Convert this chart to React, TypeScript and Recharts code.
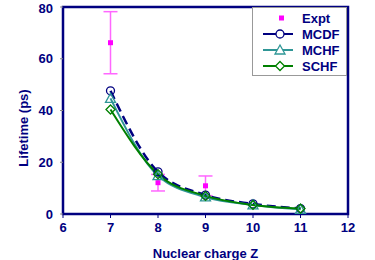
import {
  ComposedChart,
  Line,
  Scatter,
  ErrorBar,
  XAxis,
  YAxis,
  ReferenceArea,
} from 'recharts';

const zValues = [7, 8, 9, 10, 11];
const mcdf = [47.6, 16.3, 7.3, 3.9, 2.1];
const mchf = [44.7, 14.8, 6.6, 3.5, 1.8];
const schf = [40.4, 15.4, 7.0, 3.5, 2.1];

const exptZ = [7, 8, 9];
const expt = [66.2, 12.1, 10.9];
const exptErr = [12, 3.2, 3.8];

const xTicks = [6, 7, 8, 9, 10, 11, 12];
const yTicks = [0, 20, 40, 60, 80];
const yMinorTicks = [
  2, 4, 6, 8, 10, 12, 14, 16, 18, 22, 24, 26, 28, 30, 32, 34, 36, 38, 42, 44, 46, 48, 50,
  52, 54, 56, 58, 62, 64, 66, 68, 70, 72, 74, 76, 78,
];

const NAVY = '#000080';
const TEAL = '#2F9696';
const GREEN = '#008000';
const MAGENTA = '#FF00FF';
const FONT = '"Liberation Sans", Arial, sans-serif';

const data = zValues.map((z, i) => ({ z, mcdf: mcdf[i], mchf: mchf[i], schf: schf[i] }));
const exptData = exptZ.map((z, i) => ({ z, expt: expt[i], err: exptErr[i] }));

const Circle = (p: any) =>
  p.cx == null ? null : (
    <circle key={p.key} cx={p.cx} cy={p.cy} r={4} fill="none" stroke={NAVY} strokeWidth={1.3} />
  );

const Triangle = (p: any) =>
  p.cx == null ? null : (
    <path
      key={p.key}
      d={`M${p.cx},${p.cy - 5} L${p.cx + 5},${p.cy + 4} L${p.cx - 5},${p.cy + 4} Z`}
      fill="none"
      stroke={TEAL}
      strokeWidth={1.3}
    />
  );

const Diamond = (p: any) =>
  p.cx == null ? null : (
    <path
      key={p.key}
      d={`M${p.cx},${p.cy - 4.5} L${p.cx + 4.5},${p.cy} L${p.cx},${p.cy + 4.5} L${p.cx - 4.5},${p.cy} Z`}
      fill="none"
      stroke={GREEN}
      strokeWidth={1.3}
    />
  );

const Square = (p: any) => (
  <rect x={p.cx - 2.5} y={p.cy - 2.5} width={5} height={5} fill={MAGENTA} />
);

// y title drawn by hand so it sits where the original has it
const YTitle = () => (
  <text
    transform="translate(23.5,128) rotate(-90)"
    textAnchor="middle"
    dominantBaseline="central"
    fill={NAVY}
    fontFamily={FONT}
    fontWeight="bold"
    fontSize={13}
  >
    Lifetime (ps)
  </text>
);

function LegendBox() {
  const rows = [
    { name: 'Expt', y: 11 },
    { name: 'MCDF', y: 27 },
    { name: 'MCHF', y: 43 },
    { name: 'SCHF', y: 59 },
  ];
  return (
    <svg width={95} height={69} style={{ display: 'block' }}>
      <rect x={0.5} y={0.5} width={94} height={68} fill="#fff" stroke="#999" />
      <rect x={27} y={rows[0].y - 2.5} width={5} height={5} fill={MAGENTA} />
      <line x1={11} x2={41} y1={rows[1].y} y2={rows[1].y} stroke={NAVY} strokeWidth={2} />
      <circle cx={28} cy={rows[1].y} r={4} fill="#fff" stroke={NAVY} strokeWidth={1.3} />
      <line x1={11} x2={41} y1={rows[2].y} y2={rows[2].y} stroke={TEAL} strokeWidth={2} />
      <path
        d={`M28,${rows[2].y - 5} L33,${rows[2].y + 4} L23,${rows[2].y + 4} Z`}
        fill="#fff"
        stroke={TEAL}
        strokeWidth={1.3}
      />
      <line x1={11} x2={41} y1={rows[3].y} y2={rows[3].y} stroke={GREEN} strokeWidth={2} />
      <path
        d={`M28,${rows[3].y - 4.5} L32.5,${rows[3].y} L28,${rows[3].y + 4.5} L23.5,${rows[3].y} Z`}
        fill="#fff"
        stroke={GREEN}
        strokeWidth={1.3}
      />
      {rows.map((r) => (
        <text
          key={r.name}
          x={50}
          y={r.y + 4.5}
          fill={NAVY}
          fontFamily={FONT}
          fontWeight="bold"
          fontSize={13}
        >
          {r.name}
        </text>
      ))}
    </svg>
  );
}

export default function App() {
  return (
    <div style={{ position: 'absolute', left: 0, top: 0, width: 375, height: 260, background: '#fff' }}>
      <ComposedChart width={375} height={260} data={data} margin={{ top: 7, right: 27, bottom: 0, left: 0 }}>
        <XAxis
          dataKey="z"
          type="number"
          domain={[6, 12]}
          ticks={xTicks}
          axisLine={false}
          tickLine={{ stroke: NAVY }}
          tickSize={4}
          tickMargin={5}
          height={46}
          tick={{ fill: NAVY, fontFamily: FONT, fontWeight: 'bold', fontSize: 13 }}
          label={{
            value: 'Nuclear charge Z',
            position: 'insideBottom',
            offset: 2,
            fill: NAVY,
            fontFamily: FONT,
            fontWeight: 'bold',
            fontSize: 13,
          }}
        />
        <YAxis
          yAxisId="main"
          type="number"
          domain={[0, 80]}
          ticks={yTicks}
          width={63}
          axisLine={false}
          tickLine={{ stroke: '#888' }}
          tickSize={3}
          tickMargin={7}
          tick={{ fill: NAVY, fontFamily: FONT, fontWeight: 'bold', fontSize: 13 }}
          label={{ content: YTitle }}
        />
        <YAxis
          yAxisId="minor"
          type="number"
          domain={[0, 80]}
          ticks={yMinorTicks}
          width={0}
          mirror
          axisLine={false}
          tick={false}
          tickLine={{ stroke: '#aaa' }}
          tickSize={3}
        />
        <ReferenceArea
          yAxisId="main"
          x1={6}
          x2={12}
          y1={0}
          y2={80}
          fill="none"
          stroke={NAVY}
          strokeWidth={2.5}
          ifOverflow="visible"
        />
        <Scatter
          yAxisId="main"
          data={exptData}
          dataKey="expt"
          shape={Square}
          isAnimationActive={false}
        >
          <ErrorBar dataKey="err" direction="y" stroke="#FF66FF" strokeWidth={1.5} width={7} />
        </Scatter>
        <Line
          yAxisId="main"
          type="monotone"
          dataKey="mcdf"
          stroke={NAVY}
          strokeWidth={2.5}
          strokeDasharray="9 5"
          dot={Circle}
          activeDot={false}
          isAnimationActive={false}
        />
        <Line
          yAxisId="main"
          type="monotone"
          dataKey="mchf"
          stroke={TEAL}
          strokeWidth={2}
          dot={Triangle}
          activeDot={false}
          isAnimationActive={false}
        />
        <Line
          yAxisId="main"
          type="monotone"
          dataKey="schf"
          stroke={GREEN}
          strokeWidth={2}
          dot={Diamond}
          activeDot={false}
          isAnimationActive={false}
        />
      </ComposedChart>
      <div style={{ position: 'absolute', left: 252, top: 7 }}>
        <LegendBox />
      </div>
    </div>
  );
}
